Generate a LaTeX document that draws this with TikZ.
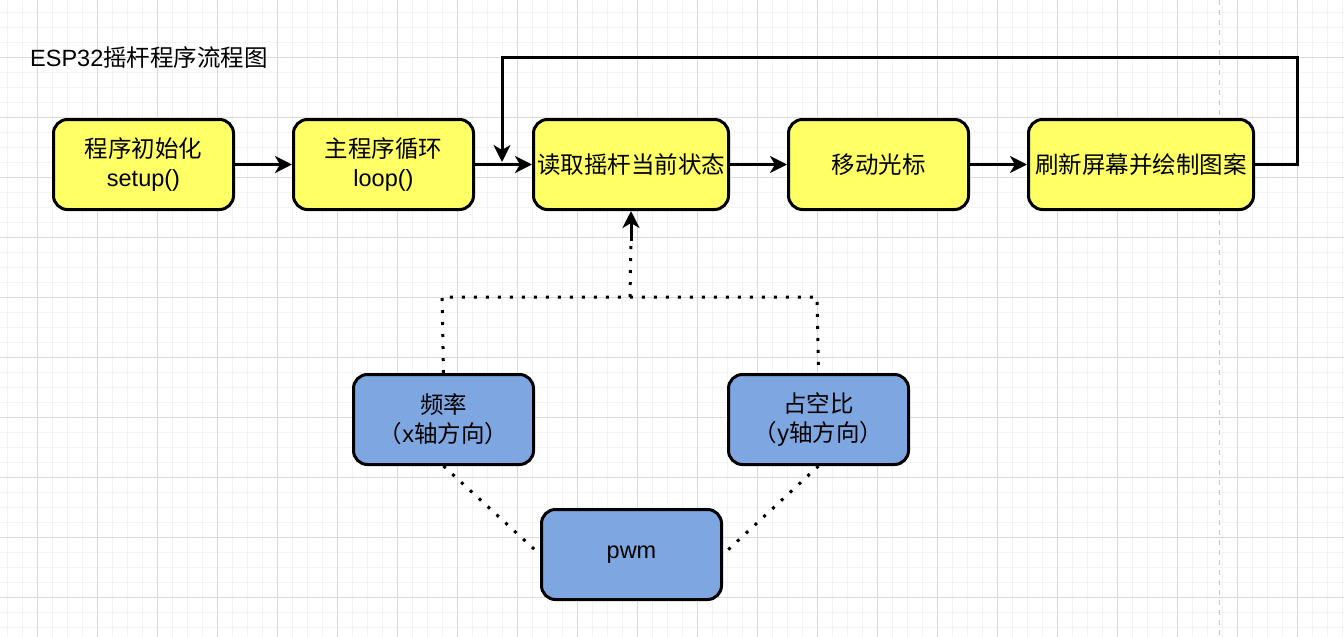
\documentclass[tikz,border=0pt]{standalone}
\usepackage{fontspec}
\setmainfont{Liberation Sans}
\newfontfamily\cjk{Noto Sans CJK SC}
\usetikzlibrary{arrows.meta}
\definecolor{yellowfill}{HTML}{FFFF66}
\definecolor{bluefill}{HTML}{7EA6E0}
\definecolor{gridminor}{HTML}{F3F3F3}
\definecolor{gridmajor}{HTML}{DADADA}
\definecolor{pagebreak}{HTML}{C4C4C4}
\begin{document}
\begin{tikzpicture}[x=1pt,y=-1pt,
  box/.style={draw=black, line width=3pt, rounded corners=14pt, minimum width=180pt,
    minimum height=90pt, inner sep=0pt, align=center,
    font=\fontsize{23.5}{29}\selectfont, anchor=north west},
  ybox/.style={box, fill=yellowfill},
  bbox/.style={box, fill=bluefill},
  tip/.style={-{Stealth[length=17pt,width=17pt,inset=5pt]}},
  conn/.style={line width=3pt, tip},
  dotl/.style={line width=3pt, dash pattern=on 3pt off 9pt},
  minorline/.style={draw=gridminor, line width=1.5pt},
  majorline/.style={draw=gridmajor, line width=0.9pt},
]
% background and grid
\fill[white] (0,0) rectangle (1344,637);
\useasboundingbox (0,0) rectangle (1344,637);
\foreach \i in {0,...,89} \draw[minorline] ({7.3+15*\i},0) -- ({7.3+15*\i},637);
\foreach \i in {0,...,41} \draw[minorline] (0,{12.3+15*\i}) -- (1344,{12.3+15*\i});
\foreach \i in {0,...,21} \draw[majorline] ({37.3+60*\i},0) -- ({37.3+60*\i},637);
\foreach \i in {0,...,9} \draw[majorline] (0,{57.3+60*\i}) -- (1344,{57.3+60*\i});
\draw[pagebreak, line width=1pt, dash pattern=on 5pt off 5pt] (1219,0) -- (1219,637);

% title
\node[anchor=west, inner sep=0pt, font=\fontsize{23.5}{29}\selectfont] (title) at (30,58)
  {ESP32{\cjk 摇杆程序流程图}};

% main flow
\node[ybox] (a) at (52,118) {{\cjk 程序初始化}\\setup()};
\node[ybox] (b) at (292,118) {{\cjk 主程序循环}\\loop()};
\node[ybox, minimum width=195pt] (c) at (532,118) {\cjk 读取摇杆当前状态};
\node[ybox] (d) at (787,118) {\cjk 移动光标};
\node[ybox, minimum width=225pt] (e) at (1027,118) {\cjk 刷新屏幕并绘制图案};

% lower nodes
\node[bbox] (f) at (352,373) {{\cjk 频率}\\{\cjk （}x{\cjk 轴方向）}};
\node[bbox] (g) at (727,373) {{\cjk 占空比}\\{\cjk （}y{\cjk 轴方向）}};
\node[bbox] (p) at (540,508) {pwm};

% connectors
\draw[conn] (a.east) -- (b.west);
\draw[conn] (b.east) -- (c.west);
\draw[conn] (c.east) -- (d.west);
\draw[conn] (d.east) -- (e.west);

\coordinate (c1) at (1297,57);
\coordinate (c3) at (502,162);
\draw[conn] (e.east) -| (c1) -| (c3);

\coordinate (jl) at (442,297);
\coordinate (jr) at (817,297);
\coordinate (jm) at (630,297);
\draw[dotl] (f.north) -- (jl) -- (jr) -- (g.north);
\draw[dotl] (jm) -- ([yshift=-30pt]c.south);
\draw[conn] ([yshift=-30pt]c.south) -- (c.south);

\draw[dotl] (f.south) -- (p.west);
\draw[dotl] (g.south) -- (p.east);
\end{tikzpicture}
\end{document}
